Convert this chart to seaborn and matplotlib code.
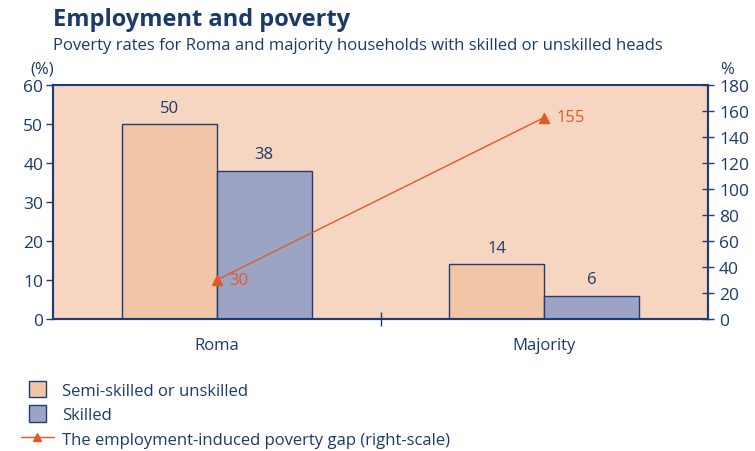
import matplotlib
matplotlib.use("Agg")
import matplotlib.pyplot as plt
import seaborn as sns
import pandas as pd
from matplotlib.patches import Patch, Rectangle
from matplotlib.lines import Line2D
from matplotlib.legend_handler import HandlerPatch

groups = ["Roma", "Majority"]
semi_skilled = [50, 14]
skilled = [38, 6]
poverty_gap = [30, 155]
series_names = ["Semi-skilled or unskilled", "Skilled"]
gap_name = "The employment-induced poverty gap (right-scale)"

NAVY = "#1B3A6B"
EDGE = "#1F3C75"
ORANGE = "#E05A26"
BG = "#F6D6C0"
C_SEMI = "#F3C5A7"
C_SKILL = "#9CA4C4"

sns.set_theme(style="white")
plt.rcParams["font.family"] = ["Open Sans", "DejaVu Sans"]

df = pd.DataFrame({
    "group": groups * 2,
    "series": [series_names[0]] * 2 + [series_names[1]] * 2,
    "value": semi_skilled + skilled,
})

fig = plt.figure(figsize=(7.55, 4.52), dpi=100)
ax = fig.add_axes([53 / 755, 1 - 320 / 452, 655 / 755, 234 / 452])
ax.set_facecolor(BG)

sns.barplot(data=df, x="group", y="value", hue="series", order=groups,
            hue_order=series_names, palette=[C_SEMI, C_SKILL], width=0.58,
            edgecolor=EDGE, linewidth=1.0, ax=ax, legend=False, saturation=1)
for cont in ax.containers:
    ax.bar_label(cont, padding=6, color=NAVY, fontsize=12)

ax.set_xlim(-0.5, 1.5)
ax.set_ylim(0, 60)
ax.set_yticks(range(0, 61, 10))
ax.set_xlabel("")
ax.set_ylabel("")
ax.set_xticks([0, 1])
ax.set_xticklabels(groups)
ax.set_xticks([0.5], minor=True)
ax.tick_params(axis="x", which="major", bottom=True, length=0, pad=13,
               labelsize=12, labelcolor=NAVY)
ax.tick_params(axis="x", which="minor", bottom=True, length=10, width=1,
               direction="inout", color=EDGE)
ax.tick_params(axis="y", left=True, length=5, width=1, direction="out", color=EDGE,
               labelsize=12.5, labelcolor=NAVY, pad=2)
for side, sp in ax.spines.items():
    sp.set_color(EDGE)
    sp.set_linewidth(1.5)
ax.spines["top"].set_linewidth(1.2)

ax2 = ax.twinx()
ax2.plot([0, 1], poverty_gap, color=ORANGE, lw=1.0, marker="^",
         markersize=7, markevery=[0, 1])
ax2.set_ylim(0, 180)
ax2.set_yticks(range(0, 181, 20))
ax2.tick_params(axis="y", right=True, length=8, width=1, direction="inout", color=EDGE,
                labelsize=12.5, labelcolor=NAVY, pad=4)
for sp in ax2.spines.values():
    sp.set_color(EDGE)
    sp.set_linewidth(1.5)
for xi, v in zip([0, 1], poverty_gap):
    ax2.annotate(str(v), (xi, v), xytext=(9, 0), textcoords="offset points",
                 va="center", ha="left", color=ORANGE, fontsize=12)

fig.text(53 / 755, 1 - 20 / 452, "Employment and poverty", fontsize=17,
         fontweight="bold", color=NAVY, va="center", ha="left")
fig.text(53 / 755, 1 - 46 / 452,
         "Poverty rates for Roma and majority households with skilled or unskilled heads",
         fontsize=12, color=NAVY, va="center", ha="left")
fig.text(30 / 755, 1 - 70 / 452, "(%)", fontsize=12, color=NAVY, va="center", ha="left")
fig.text(727 / 755, 1 - 70 / 452, "%", fontsize=12, color=NAVY, va="center", ha="center")


def square_patch(legend, orig_handle, xdescent, ydescent, width, height, fontsize):
    side = height
    return Rectangle((-xdescent + (width - side) / 2, -ydescent), side, side)


handles = [
    Patch(facecolor=C_SEMI, edgecolor=EDGE, linewidth=1.0),
    Patch(facecolor=C_SKILL, edgecolor=EDGE, linewidth=1.0),
    Line2D([0], [0], color=ORANGE, lw=1.0, marker="^", markersize=6),
]
fig.legend(handles, series_names + [gap_name], loc="upper left",
           bbox_to_anchor=(14 / 755, 1 - 375 / 452), frameon=False,
           fontsize=12, labelcolor=NAVY, handlelength=2.0, handleheight=1.15,
           labelspacing=0.4, handletextpad=0.5, borderaxespad=0,
           handler_map={Patch: HandlerPatch(patch_func=square_patch)})

fig.savefig("out.png", dpi=100, facecolor="white")
